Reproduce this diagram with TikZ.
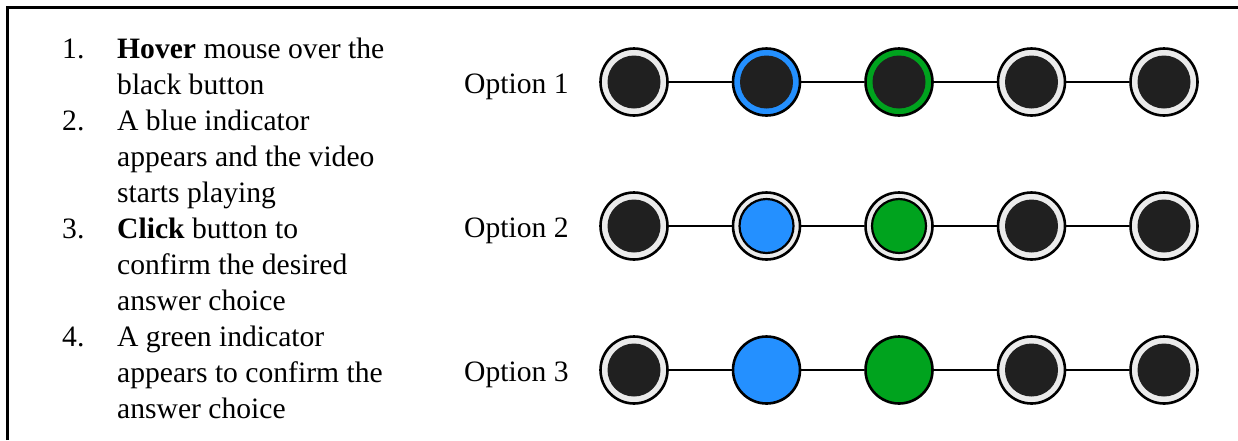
\documentclass[tikz,border=0pt]{standalone}
\usepackage{fontspec}
\setmainfont{Liberation Serif}
\definecolor{knob}{HTML}{202020}
\definecolor{ringgray}{HTML}{EBEBEB}
\definecolor{hoverblue}{HTML}{2490FF}
\definecolor{okgreen}{HTML}{00A31E}
\tikzset{
  txt/.style={anchor=base west, inner sep=0pt, font=\fontsize{29.6}{36}\selectfont},
  btn/.style={circle, draw=black, line width=2.6pt, minimum size=67pt, inner sep=0pt, fill=#1},
  btn/.default=ringgray,
  plain/.style={btn, path picture={\fill[knob] (path picture bounding box.center) circle (26.5pt);}},
  ringed/.style={btn=#1, path picture={\fill[knob] (path picture bounding box.center) circle (26.5pt);}},
  dotted in/.style={btn, path picture={\filldraw[fill=#1, draw=black, line width=2.2pt] (path picture bounding box.center) circle (27pt);}},
  solid/.style={btn=#1},
  link/.style={draw=black, line width=2.6pt}
}
\begin{document}
\begin{tikzpicture}[x=1pt, y=-1pt]
\useasboundingbox (0,0) rectangle (1238,440);
% frame
\draw[line width=3pt] (7.5,440) -- (7.5,7) -- (1238,7);

% instructions
\node[txt] (n1) at (62,58) {1.};
\node[txt] (t1a) at (117,58) {\textbf{Hover} mouse over the};
\node[txt] (t1b) at (117,94) {black button};
\node[txt] (n2) at (62,130) {2.};
\node[txt] (t2a) at (117,130) {A blue indicator};
\node[txt] (t2b) at (117,166) {appears and the video};
\node[txt] (t2c) at (117,202) {starts playing};
\node[txt] (n3) at (62,238) {3.};
\node[txt] (t3a) at (117,238) {\textbf{Click} button to};
\node[txt] (t3b) at (117,274) {confirm the desired};
\node[txt] (t3c) at (117,310) {answer choice};
\node[txt] (n4) at (62,346) {4.};
\node[txt] (t4a) at (117,346) {A green indicator};
\node[txt] (t4b) at (117,382) {appears to confirm the};
\node[txt] (t4c) at (117,418) {answer choice};

% option labels
\node[txt] (o1) at (464,93.5) {Option 1};
\node[txt] (o2) at (464,237.5) {Option 2};
\node[txt] (o3) at (464,381.5) {Option 3};

% option 1: coloured rings
\node[plain] (a1) at (634,82) {};
\node[ringed=hoverblue] (a2) at (766.5,82) {};
\node[ringed=okgreen] (a3) at (899,82) {};
\node[plain] (a4) at (1031.5,82) {};
\node[plain] (a5) at (1164,82) {};

% option 2: coloured centres
\node[plain] (b1) at (634,226) {};
\node[dotted in=hoverblue] (b2) at (766.5,226) {};
\node[dotted in=okgreen] (b3) at (899,226) {};
\node[plain] (b4) at (1031.5,226) {};
\node[plain] (b5) at (1164,226) {};

% option 3: solid fills
\node[plain] (c1) at (634,370) {};
\node[solid=hoverblue] (c2) at (766.5,370) {};
\node[solid=okgreen] (c3) at (899,370) {};
\node[plain] (c4) at (1031.5,370) {};
\node[plain] (c5) at (1164,370) {};

\foreach \r in {a,b,c}{
  \draw[link] (\r1) -- (\r2);
  \draw[link] (\r2) -- (\r3);
  \draw[link] (\r3) -- (\r4);
  \draw[link] (\r4) -- (\r5);
}
\end{tikzpicture}
\end{document}
